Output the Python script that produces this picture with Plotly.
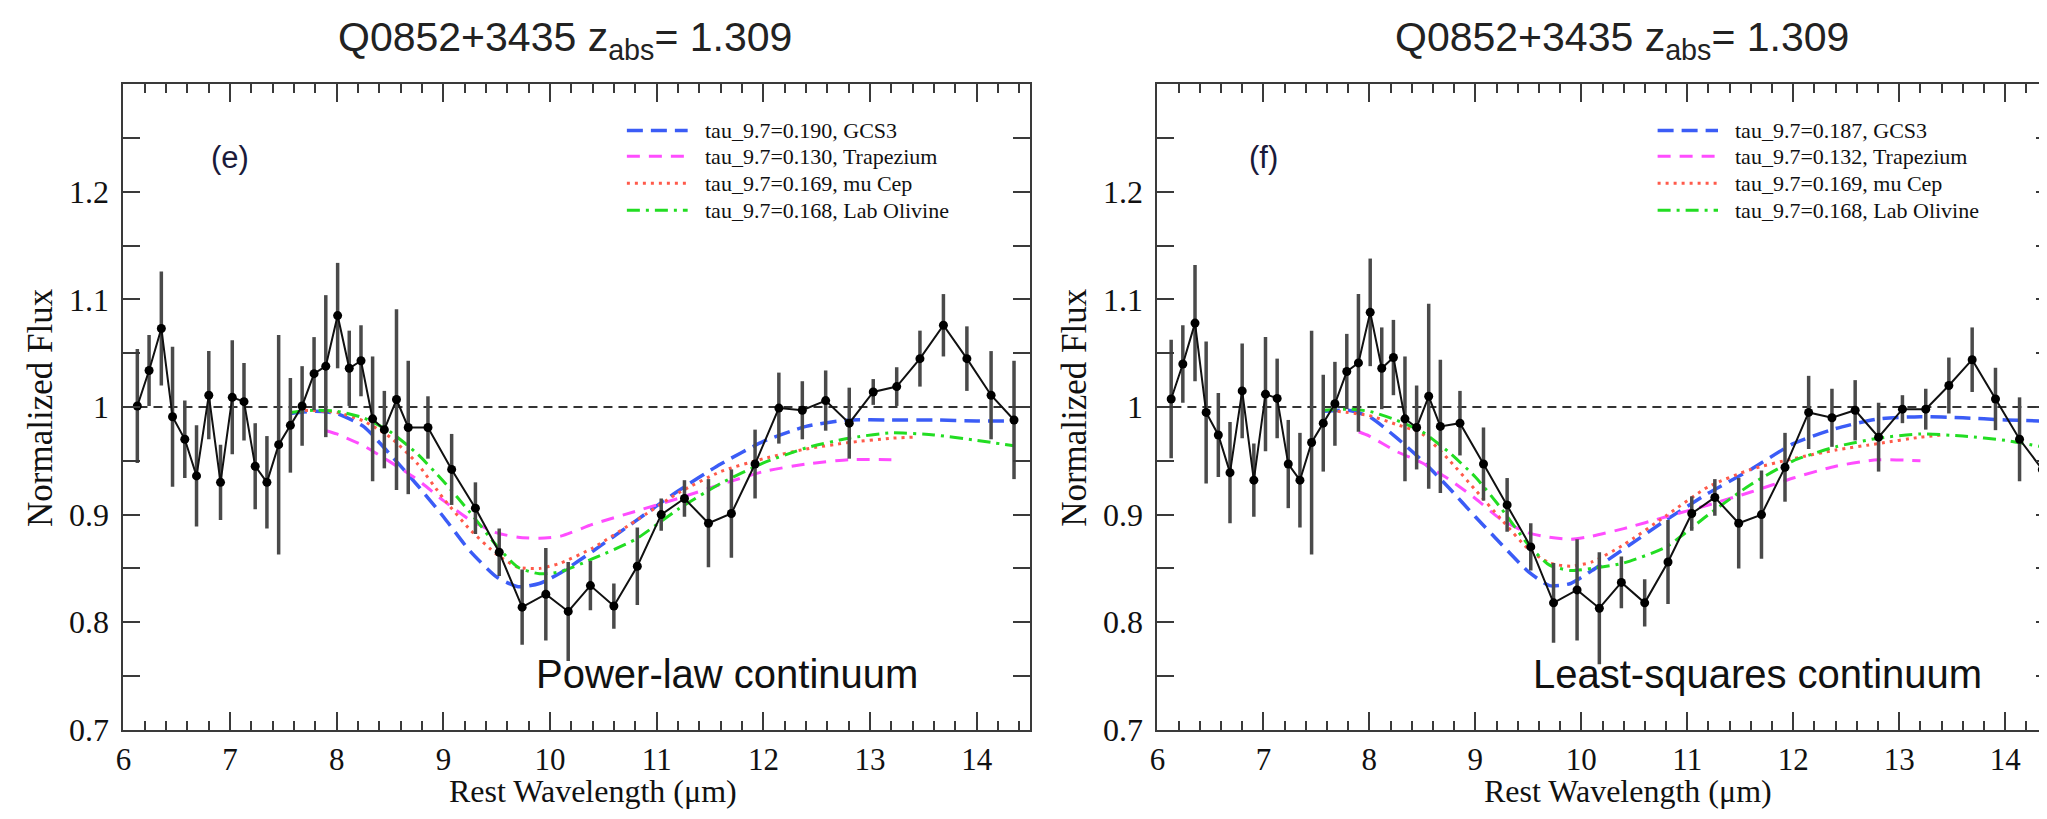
import plotly.graph_objects as go

# ---------------- data ----------------
wavelength = [6.13, 6.24, 6.355, 6.46, 6.575, 6.685, 6.80, 6.91, 7.02, 7.13,
              7.235, 7.345, 7.455, 7.565, 7.675, 7.787, 7.897, 8.008, 8.117, 8.227,
              8.336, 8.446, 8.56, 8.67, 8.855, 9.077, 9.30, 9.523, 9.738, 9.96,
              10.17, 10.378, 10.598, 10.818, 11.042, 11.26, 11.485, 11.70, 11.922, 12.145,
              12.365, 12.584, 12.805, 13.03, 13.25, 13.468, 13.688, 13.908, 14.135, 14.35]

flux_powerlaw = [1.001, 1.034, 1.073, 0.991, 0.970, 0.936, 1.011, 0.930, 1.009, 1.005,
                 0.945, 0.930, 0.965, 0.983, 1.001, 1.031, 1.038, 1.085, 1.036, 1.043,
                 0.989, 0.979, 1.007, 0.981, 0.981, 0.942, 0.906, 0.865, 0.814, 0.826,
                 0.810, 0.834, 0.815, 0.852, 0.900, 0.915, 0.892, 0.901, 0.947, 0.999,
                 0.997, 1.006, 0.985, 1.014, 1.019, 1.045, 1.076, 1.045, 1.011, 0.988]
err_powerlaw = [0.053, 0.033, 0.053, 0.065, 0.036, 0.047, 0.041, 0.035, 0.053, 0.036,
                0.040, 0.043, 0.102, 0.044, 0.037, 0.034, 0.066, 0.049, 0.035, 0.033,
                0.058, 0.036, 0.084, 0.062, 0.029, 0.033, 0.024, 0.022, 0.035, 0.043,
                0.046, 0.023, 0.021, 0.036, 0.015, 0.017, 0.041, 0.041, 0.032, 0.033,
                0.027, 0.028, 0.033, 0.012, 0.018, 0.026, 0.029, 0.030, 0.041, 0.055]

flux_lsq = [1.0075, 1.040, 1.078, 0.995, 0.974, 0.939, 1.015, 0.932, 1.012, 1.008,
            0.947, 0.932, 0.967, 0.985, 1.003, 1.033, 1.041, 1.088, 1.036, 1.046,
            0.989, 0.981, 1.010, 0.982, 0.985, 0.947, 0.909, 0.870, 0.818, 0.830,
            0.813, 0.837, 0.818, 0.856, 0.901, 0.916, 0.892, 0.900, 0.944, 0.995,
            0.990, 0.997, 0.972, 0.998, 0.998, 1.020, 1.044, 1.0075, 0.970, 0.942]
err_lsq = [0.055, 0.036, 0.054, 0.066, 0.039, 0.047, 0.044, 0.034, 0.053, 0.037,
           0.041, 0.044, 0.104, 0.045, 0.039, 0.035, 0.064, 0.050, 0.038, 0.035,
           0.058, 0.039, 0.086, 0.062, 0.030, 0.034, 0.025, 0.022, 0.037, 0.047,
           0.052, 0.024, 0.022, 0.039, 0.016, 0.017, 0.042, 0.041, 0.032, 0.034,
           0.027, 0.028, 0.032, 0.013, 0.019, 0.026, 0.030, 0.029, 0.039, 0.049]

grid_full = [7.57, 7.8, 8.0, 8.25, 8.5, 8.75, 9.0, 9.25, 9.5, 9.7, 9.9, 10.1,
             10.4, 10.8, 11.2, 11.6, 12.0, 12.4, 12.8, 13.2, 13.6, 14.0, 14.35]
grid_trap = [7.9, 8.0, 8.25, 8.5, 8.75, 9.0, 9.25, 9.5, 9.7, 9.9, 10.1,
             10.4, 10.8, 11.2, 11.6, 12.0, 12.4, 12.8, 13.2]
grid_mucep = [7.7, 8.0, 8.25, 8.5, 8.75, 9.0, 9.25, 9.5, 9.7, 9.9, 10.1,
              10.4, 10.8, 11.2, 11.6, 12.0, 12.4, 12.8, 13.2, 13.4]

pl_gcs3 = [0.994, 0.996, 0.994, 0.982, 0.956, 0.928, 0.898, 0.866, 0.842, 0.833, 0.836, 0.846,
           0.866, 0.894, 0.922, 0.947, 0.968, 0.982, 0.988, 0.988, 0.988, 0.987, 0.987]
pl_trap = [0.978, 0.975, 0.964, 0.949, 0.933, 0.913, 0.895, 0.883, 0.879, 0.878, 0.880,
           0.891, 0.903, 0.915, 0.928, 0.940, 0.947, 0.951, 0.951]
pl_mucep = [0.997, 0.995, 0.987, 0.972, 0.948, 0.915, 0.886, 0.863, 0.851, 0.850, 0.855,
            0.869, 0.894, 0.920, 0.940, 0.952, 0.961, 0.967, 0.971, 0.972]
pl_olivine = [0.995, 0.997, 0.996, 0.990, 0.977, 0.957, 0.931, 0.902, 0.871, 0.851, 0.845, 0.847,
              0.859, 0.877, 0.905, 0.929, 0.948, 0.962, 0.971, 0.976, 0.974, 0.969, 0.964]

ls_gcs3 = [0.996, 0.997, 0.991, 0.972, 0.950, 0.925, 0.898, 0.872, 0.847, 0.834, 0.836, 0.848,
           0.868, 0.895, 0.920, 0.942, 0.966, 0.980, 0.989, 0.991, 0.990, 0.988, 0.987]
ls_trap = [0.977, 0.973, 0.959, 0.948, 0.933, 0.915, 0.895, 0.883, 0.879, 0.877, 0.880,
           0.887, 0.898, 0.909, 0.921, 0.934, 0.945, 0.951, 0.950]
ls_mucep = [0.996, 0.992, 0.984, 0.975, 0.951, 0.923, 0.895, 0.868, 0.855, 0.852, 0.856,
            0.872, 0.899, 0.926, 0.942, 0.952, 0.960, 0.966, 0.972, 0.974]
ls_olivine = [0.997, 0.998, 0.996, 0.988, 0.977, 0.958, 0.935, 0.905, 0.872, 0.853, 0.848, 0.850,
              0.855, 0.870, 0.900, 0.928, 0.950, 0.963, 0.971, 0.975, 0.973, 0.969, 0.963]

labels_pl = ["tau_9.7=0.190, GCS3", "tau_9.7=0.130, Trapezium",
             "tau_9.7=0.169, mu Cep", "tau_9.7=0.168, Lab Olivine"]
labels_ls = ["tau_9.7=0.187, GCS3", "tau_9.7=0.132, Trapezium",
             "tau_9.7=0.169, mu Cep", "tau_9.7=0.168, Lab Olivine"]

title_text = "Q0852+3435 z<sub>abs</sub>= 1.309"
panel_tags = ["(e)", "(f)"]
continuum_labels = ["Power-law continuum", "Least-squares continuum"]
x_ticks = [6, 7, 8, 9, 10, 11, 12, 13, 14]
y_tickvals = [0.7, 0.8, 0.9, 1.0, 1.1, 1.2]
y_ticktext = ["0.7", "0.8", "0.9", "1", "1.1", "1.2"]

# ---------------- styles ----------------
model_styles = [
    dict(color="#3b5cf6", dash="16px,8px", width=3.5),
    dict(color="#ff4dff", dash="13px,9px", width=3),
    dict(color="#ff5a4a", dash="3px,5px", width=3),
    dict(color="#22dd22", dash="13px,6px,3px,6px", width=3),
]

W, H = 2047, 819
y_top_px, y_bot_px = 78, 738
ydom = [1 - y_bot_px / H, 1 - y_top_px / H]
panels = [
    dict(xdom=[108 / W, 1019 / W], xr=[6, 14.5], left_px=108),
    dict(xdom=[1147 / W, 1.0], xr=[6, 6 + 900 / 106.5], left_px=1147),
]
serif = "Liberation Serif, Times New Roman, serif"
sans = "Arial, Liberation Sans, sans-serif"

fig = go.Figure()

datasets = [
    (flux_powerlaw, err_powerlaw, [pl_gcs3, pl_trap, pl_mucep, pl_olivine], labels_pl),
    (flux_lsq, err_lsq, [ls_gcs3, ls_trap, ls_mucep, ls_olivine], labels_ls),
]
grids = [grid_full, grid_trap, grid_mucep, grid_full]

for i, (flux, err, models, labels) in enumerate(datasets):
    xa = "x" if i == 0 else "x2"
    ya = "y" if i == 0 else "y2"
    for g, m, lab, st in zip(grids, models, labels, model_styles):
        fig.add_trace(go.Scatter(x=g, y=m, mode="lines", name=lab, showlegend=False,
                                 line=dict(color=st["color"], dash=st["dash"], width=st["width"],
                                           shape="spline", smoothing=0.6),
                                 xaxis=xa, yaxis=ya, hoverinfo="skip"))
    fig.add_trace(go.Scatter(x=wavelength, y=flux, mode="lines+markers", name="data",
                             showlegend=False,
                             line=dict(color="#111111", width=2),
                             marker=dict(color="#000000", size=9),
                             error_y=dict(type="data", array=err, visible=True,
                                          color="#4a4a4a", thickness=3.5, width=0),
                             xaxis=xa, yaxis=ya))

axis_common = dict(showline=True, linecolor="#3a3a3a", linewidth=2, mirror="ticks",
                   ticks="inside", showgrid=False, zeroline=False,
                   tickfont=dict(family=serif, size=32, color="#111111"))

layout = dict(width=W, height=H, margin=dict(l=0, r=0, t=0, b=0),
              paper_bgcolor="white", plot_bgcolor="white", showlegend=False)

shapes = []
annotations = []
leg_rows = [1.257, 1.233, 1.208, 1.183]
for i, p in enumerate(panels):
    sfx = "" if i == 0 else "2"
    layout["xaxis" + sfx] = dict(axis_common, domain=p["xdom"], range=p["xr"], anchor="y" + sfx,
                                 tickmode="array", tickvals=x_ticks, ticklen=18, tickwidth=2,
                                 tickcolor="#3a3a3a", ticklabelstandoff=1,
                                 tickfont=dict(family=serif, size=31, color="#111111"),
                                 minor=dict(dtick=0.2, tick0=6, ticklen=9, tickwidth=2,
                                            tickcolor="#3a3a3a", ticks="inside"))
    layout["yaxis" + sfx] = dict(axis_common, domain=ydom, range=[0.7, 1.3], anchor="x" + sfx,
                                 tickmode="array", tickvals=y_tickvals, ticktext=y_ticktext,
                                 ticklen=17, tickwidth=2, tickcolor="#3a3a3a", ticklabelstandoff=6,
                                 minor=dict(dtick=0.05, tick0=0.7, ticklen=17, tickwidth=2,
                                            tickcolor="#3a3a3a", ticks="inside"))
    xr = "x" + sfx
    yr = "y" + sfx
    # unity reference line
    shapes.append(dict(type="line", xref=xr + " domain", yref=yr, x0=0, x1=1, y0=1.0, y1=1.0,
                       line=dict(color="#333333", width=2, dash="9px,6px"), layer="below"))
    # manual legend
    labs = labels_pl if i == 0 else labels_ls
    for row, lab, st in zip(leg_rows, labs, model_styles):
        shapes.append(dict(type="line", xref=xr, yref=yr, x0=10.72, x1=11.29, y0=row, y1=row,
                           line=dict(color=st["color"], dash=st["dash"], width=st["width"])))
        annotations.append(dict(xref=xr, yref=yr, x=11.43, y=row, text=lab, showarrow=False,
                                xanchor="left", yanchor="middle",
                                font=dict(family=serif, size=22, color="#111111")))
    # panel tag
    annotations.append(dict(xref=xr, yref=yr, x=7.0, y=1.232, text=panel_tags[i], showarrow=False,
                            xanchor="center", yanchor="middle",
                            font=dict(family=sans, size=31, color="#1a1a3a")))
    # continuum label
    annotations.append(dict(xref=xr, yref=yr, x=11.66, y=0.752, text=continuum_labels[i],
                            showarrow=False, xanchor="center", yanchor="middle",
                            font=dict(family=sans, size=40, color="#111111")))
    # title
    tcx = [552, 1614][i]
    annotations.append(dict(xref="paper", yref="paper", x=tcx / W, y=1 - 33 / H, text=title_text,
                            showarrow=False, xanchor="center", yanchor="middle",
                            font=dict(family=sans, size=41, color="#222222")))
    # axis titles
    xcx = [580, 1620][i]
    annotations.append(dict(xref="paper", yref="paper", x=xcx / W, y=1 - 801 / H,
                            text="Rest Wavelength (\u03bcm)", showarrow=False,
                            xanchor="center", yanchor="middle",
                            font=dict(family=serif, size=32, color="#111111")))
    ycx = p["left_px"] - 84
    annotations.append(dict(xref="paper", yref="paper", x=ycx / W, y=1 - 408 / H,
                            text="Normalized Flux", showarrow=False, textangle=-90,
                            xanchor="center", yanchor="middle",
                            font=dict(family=serif, size=35, color="#111111")))

layout["shapes"] = shapes
layout["annotations"] = annotations
fig.update_layout(**layout)
fig.write_html("out.html")
